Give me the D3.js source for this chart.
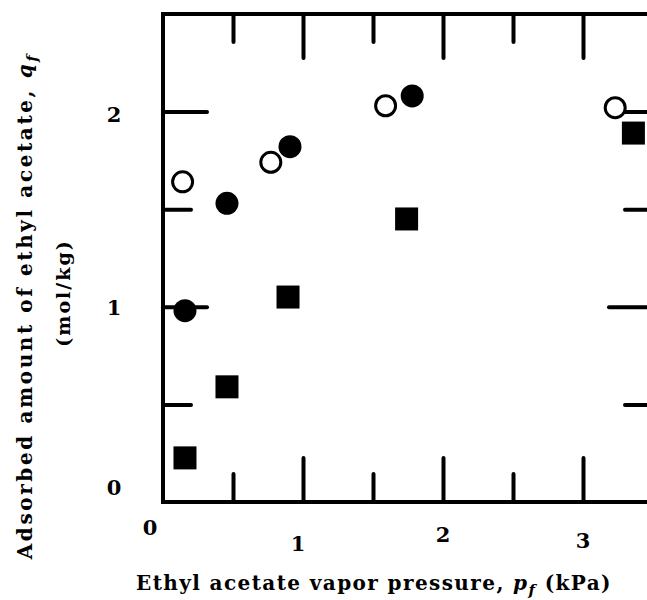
<!DOCTYPE html>
<html>
<head>
<meta charset="utf-8">
<script src="https://cdn.jsdelivr.net/npm/d3@7"></script>
<style>
  body { margin: 0; background: #fff; }
  text { font-family: "DejaVu Serif", "Liberation Serif", serif; font-weight: bold; fill: #000; }
</style>
</head>
<body>
<svg id="chart" width="647" height="600"></svg>
<script>
// open circles, filled circles, filled squares  (p in kPa, q in mol/kg)
let openX = [0.14, 0.77, 1.59, 3.23];
let openY = [1.64, 1.74, 2.03, 2.02];
let dotX = [0.157, 0.457, 0.907, 1.78];
let dotY = [0.98, 1.53, 1.82, 2.08];
let squareX = [0.157, 0.457, 0.893, 1.74, 3.36];
let squareY = [0.226, 0.59, 1.05, 1.45, 1.89];

let xMajor = [1, 2, 3];
let xMinor = [0.5, 1.5, 2.5];
let yMajor = [1, 2];
let yMinor = [0.5, 1.5];
let xLabels = ["0", "1", "2", "3"];
let yLabels = ["0", "1", "2"];

let svg = d3.select("#chart");
let pLeft = 163, pRight = 653, pTop = 14, pBottom = 502;

let xScale = d3.scaleLinear().domain([0, 3.5]).range([pLeft, pRight]);
let yScale = d3.scaleLinear().domain([0, 2.5]).range([pBottom, pTop]);

let tickStyle = g => {
    g.select(".domain").remove();
    g.selectAll(".tick line").attr("stroke", "#000").attr("stroke-width", 4).attr("stroke-linecap", "round");
    g.selectAll(".tick text").remove();
};

// inward ticks on every side, long ones on the whole numbers
function ticks(vals, len) {
    svg.append("g").attr("transform", "translate(0," + pBottom + ")")
        .call(d3.axisBottom(xScale).tickValues(vals.x).tickSize(-len)).call(tickStyle);
    svg.append("g").attr("transform", "translate(0," + pTop + ")")
        .call(d3.axisTop(xScale).tickValues(vals.x).tickSize(-len)).call(tickStyle);
    svg.append("g").attr("transform", "translate(" + pLeft + ",0)")
        .call(d3.axisLeft(yScale).tickValues(vals.y).tickSize(-len)).call(tickStyle);
    svg.append("g").attr("transform", "translate(" + pRight + ",0)")
        .call(d3.axisRight(yScale).tickValues(vals.y).tickSize(-len)).call(tickStyle);
}
ticks({x: xMajor, y: yMajor}, 44);
ticks({x: xMinor, y: yMinor}, 28);

svg.append("rect").attr("x", pLeft).attr("y", pTop)
    .attr("width", pRight - pLeft).attr("height", pBottom - pTop)
    .attr("fill", "none").attr("stroke", "#000").attr("stroke-width", 4);

// tick labels (the scan has them a bit staggered)
let xLabelDy = {"0": 33, "1": 49, "2": 40, "3": 46};
let xLabelDx = {"0": -13, "1": -5, "2": 0, "3": 0};
svg.selectAll(".xl").data(xLabels).enter().append("text")
    .attr("x", d => xScale(+d) + xLabelDx[d]).attr("y", d => pBottom + xLabelDy[d])
    .attr("text-anchor", "middle").attr("font-size", 21).text(d => d);

let yLabelDy = {"0": -7, "1": 8, "2": 10};
svg.selectAll(".yl").data(yLabels).enter().append("text")
    .attr("x", 114).attr("y", d => yScale(+d) + yLabelDy[d])
    .attr("text-anchor", "middle").attr("font-size", 21).text(d => d);

// axis titles
let xt = svg.append("text").attr("x", 374).attr("y", 590)
    .attr("text-anchor", "middle").attr("font-size", 20).attr("letter-spacing", 1.4);
xt.append("tspan").text("Ethyl acetate vapor pressure, ");
xt.append("tspan").attr("font-style", "italic").text("p");
xt.append("tspan").attr("font-style", "italic").attr("font-size", 15).attr("dy", 5).text("f");
xt.append("tspan").attr("dy", -5).text("  (kPa)");

let yt = svg.append("text").attr("transform", "translate(32,306) rotate(-90)")
    .attr("text-anchor", "middle").attr("font-size", 20).attr("letter-spacing", 2.6);
yt.append("tspan").text("Adsorbed amount of ethyl acetate, ");
yt.append("tspan").attr("font-style", "italic").text("q");
yt.append("tspan").attr("font-style", "italic").attr("font-size", 15).attr("dy", 5).text("f");

svg.append("text").attr("transform", "translate(70,293) rotate(-90)")
    .attr("text-anchor", "middle").attr("font-size", 19).attr("letter-spacing", 2).text("(mol/kg)");

// markers
svg.selectAll(".sq").data(squareX).enter().append("rect")
    .attr("x", (d, i) => xScale(d) - 11.5).attr("y", (d, i) => yScale(squareY[i]) - 11.5)
    .attr("width", 23).attr("height", 23).attr("fill", "#000");

svg.selectAll(".dot").data(dotX).enter().append("circle")
    .attr("cx", d => xScale(d)).attr("cy", (d, i) => yScale(dotY[i]))
    .attr("r", 11.5).attr("fill", "#000");

svg.selectAll(".open").data(openX).enter().append("circle")
    .attr("cx", d => xScale(d)).attr("cy", (d, i) => yScale(openY[i]))
    .attr("r", 10).attr("fill", "#fff").attr("stroke", "#000").attr("stroke-width", 3);
</script>
</body>
</html>
